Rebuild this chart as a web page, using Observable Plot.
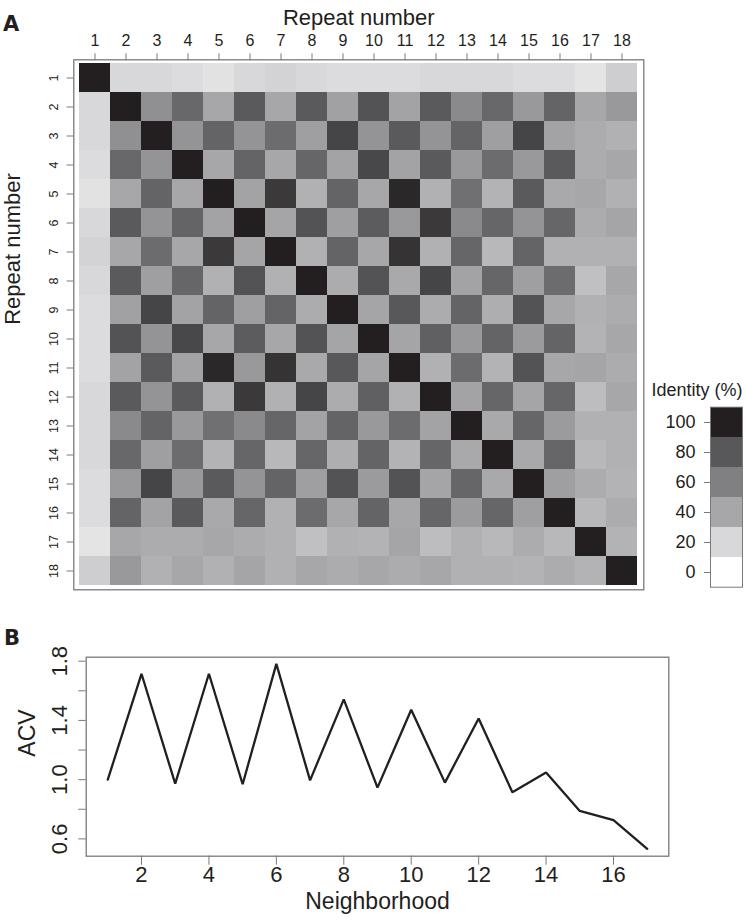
<!DOCTYPE html>
<html>
<head>
<meta charset="utf-8">
<script src="https://cdn.jsdelivr.net/npm/d3@7"></script>
<script src="https://cdn.jsdelivr.net/npm/@observablehq/plot@0.6"></script>
<style>
  html, body { margin: 0; padding: 0; background: #ffffff; }
  #root { position: relative; width: 747px; height: 922px; overflow: hidden;
          font-family: "Liberation Sans", Arial, Helvetica, sans-serif; color: #231f20; }
  .panel-label { position: absolute; font-family: "DejaVu Sans", sans-serif; font-weight: 900;
                 font-size: 21px; line-height: 1; color: #231f20; }
  svg { background: transparent !important; }
</style>
</head>
<body>
<div id="root">
  <div class="panel-label" style="left:3px; top:14px;">A</div>
  <div class="panel-label" style="left:4px; top:628px;">B</div>
</div>
<script>
// ---------- Panel A data: pairwise identity (%) between repeats ----------
const repeatNumbers = [1, 2, 3, 4, 5, 6, 7, 8, 9, 10, 11, 12, 13, 14, 15, 16, 17, 18];

const identityRows = [
  [100, 20, 20, 18, 15, 20, 22, 20, 18, 18, 18, 20, 20, 20, 18, 18, 14, 24],
  [ 20,100, 52, 72, 40, 79, 40, 79, 43, 82, 42, 79, 55, 72, 47, 74, 40, 47],
  [ 20, 52,100, 50, 74, 50, 70, 44, 87, 50, 79, 50, 74, 44, 87, 42, 38, 36],
  [ 18, 72, 50,100, 40, 74, 40, 73, 42, 86, 42, 79, 47, 70, 47, 79, 38, 40],
  [ 15, 40, 74, 40,100, 42, 91, 36, 74, 40, 97, 36, 68, 35, 79, 39, 40, 36],
  [ 20, 79, 50, 74, 42,100, 41, 82, 44, 78, 47, 91, 55, 73, 50, 73, 38, 41],
  [ 22, 40, 70, 40, 91, 41,100, 36, 74, 40, 93, 36, 73, 33, 74, 36, 36, 36],
  [ 20, 79, 44, 73, 36, 82, 36,100, 38, 82, 39, 87, 42, 73, 44, 70, 30, 40],
  [ 18, 43, 87, 42, 74, 44, 74, 38,100, 41, 80, 38, 74, 37, 82, 40, 36, 38],
  [ 18, 82, 50, 86, 40, 78, 40, 82, 41,100, 41, 76, 47, 74, 46, 74, 35, 40],
  [ 18, 42, 79, 42, 97, 47, 93, 39, 80, 41,100, 36, 70, 35, 82, 40, 41, 38],
  [ 20, 79, 50, 79, 36, 91, 36, 87, 38, 76, 36,100, 42, 73, 41, 73, 31, 40],
  [ 20, 55, 74, 47, 68, 55, 73, 42, 74, 47, 70, 42,100, 39, 73, 46, 36, 36],
  [ 20, 72, 44, 70, 35, 73, 33, 73, 37, 74, 35, 73, 39,100, 39, 73, 33, 36],
  [ 18, 47, 87, 47, 79, 50, 74, 44, 82, 46, 82, 41, 73, 39,100, 44, 38, 35],
  [ 18, 74, 42, 79, 39, 73, 36, 70, 40, 74, 40, 73, 46, 73, 44,100, 33, 38],
  [ 14, 40, 38, 38, 40, 38, 36, 30, 36, 35, 41, 31, 36, 33, 38, 33,100, 35],
  [ 24, 47, 36, 40, 36, 41, 36, 40, 38, 40, 38, 40, 36, 36, 35, 38, 35,100]
];

// legend stops and their greys
const legendStops  = [0, 20, 40, 60, 80, 100];
const legendColors = ["#ffffff", "#d8d8da", "#a7a7a9", "#808082", "#58585a", "#231f20"];

// ---------- Panel B data ----------
const neighborhood = [1, 2, 3, 4, 5, 6, 7, 8, 9, 10, 11, 12, 13, 14, 15, 16, 17];
const acv = [1.0, 1.715, 0.973, 1.715, 0.969, 1.782, 0.995, 1.542, 0.946, 1.472, 0.98, 1.413, 0.915, 1.048, 0.789, 0.726, 0.533];
const acvTicks = [0.6, 0.8, 1.0, 1.2, 1.4, 1.6, 1.8];
const acvLabels = ["0.6", "", "1.0", "", "1.4", "", "1.8"];
const neighborhoodTicks = [2, 4, 6, 8, 10, 12, 14, 16];

// ---------- build ----------
const root = document.getElementById("root");
const FONT = "'Liberation Sans', Arial, Helvetica, sans-serif";
const INK = "#231f20";
const GRID = "#7a7a7a";

const colorScale = {type: "linear", domain: legendStops, range: legendColors, interpolate: "rgb"};

const cells = identityRows.flatMap((row, i) =>
  row.map((v, j) => ({row: repeatNumbers[i], col: repeatNumbers[j], identity: v}))
);

function place(node, left, top) {
  node.style.position = "absolute";
  node.style.left = left + "px";
  node.style.top = top + "px";
  root.appendChild(node);
}

// Heatmap
const heat = Plot.plot({
  width: 650, height: 600,
  marginLeft: 73.3, marginRight: 6.7, marginTop: 59.3, marginBottom: 10.7,
  style: {fontFamily: FONT, background: "transparent", color: INK},
  x: {type: "band", domain: repeatNumbers, padding: 0, axis: null},
  y: {type: "band", domain: repeatNumbers, padding: 0, axis: null},
  color: colorScale,
  marks: [
    Plot.cell(cells, {x: "col", y: "row", fill: "identity", inset: 0, shapeRendering: "crispEdges"}),
    Plot.frame({stroke: GRID, strokeWidth: 1.3}),
    Plot.axisX({anchor: "top", tickSize: 7, tickPadding: 7, fontSize: 16, label: null, stroke: GRID, fill: INK}),
    Plot.axisY({anchor: "left", tickSize: 6.7, tickPadding: 9, tickRotate: -90, fontSize: 12.5, label: null, stroke: GRID, fill: INK}),
    Plot.text(["Repeat number"], {frameAnchor: "top", dy: -50, fontSize: 22, fill: INK}),
    Plot.text(["Repeat number"], {frameAnchor: "left", dx: -61, rotate: -90, fontSize: 22, fill: INK})
  ]
});
place(heat, 0, 0);

// Legend
const legend = Plot.plot({
  width: 97, height: 225,
  marginLeft: 60, marginRight: 5, marginTop: 36.7, marginBottom: 8.3,
  style: {fontFamily: FONT, background: "transparent", color: INK},
  x: {axis: null},
  y: {type: "band", domain: legendStops.slice().reverse(), padding: 0, axis: null},
  color: colorScale,
  marks: [
    Plot.cell(legendStops, {y: d => d, fill: d => d, inset: 0}),
    Plot.frame({stroke: GRID, strokeWidth: 1}),
    Plot.axisY({anchor: "left", tickSize: 6, tickPadding: 9, fontSize: 18, label: null, stroke: GRID, fill: INK}),
    Plot.text(["Identity (%)"], {frameAnchor: "top-right", textAnchor: "end", dy: -23.7, fontSize: 18, fill: INK})
  ]
});
place(legend, 650, 370);

// Line chart
const acvData = neighborhood.map((n, i) => ({n, v: acv[i]}));
const line = Plot.plot({
  width: 747, height: 322,
  marginLeft: 85.7, marginRight: 78.7, marginTop: 56.7, marginBottom: 66.3,
  style: {fontFamily: FONT, background: "transparent", color: INK},
  x: {domain: [0.36, 17.64], axis: null},
  y: {domain: [0.483, 1.827], axis: null},
  marks: [
    Plot.frame({stroke: GRID, strokeWidth: 1.3}),
    Plot.line(acvData, {x: "n", y: "v", stroke: INK, strokeWidth: 2.3, strokeLinejoin: "miter"}),
    Plot.axisX({anchor: "bottom", ticks: neighborhoodTicks, tickSize: 9, tickPadding: 1, fontSize: 22, label: null, stroke: GRID, fill: INK}),
    Plot.axisY({anchor: "left", ticks: acvTicks, tickFormat: d => acvLabels[acvTicks.indexOf(d)], tickSize: 7.4, tickPadding: 12, tickRotate: -90, fontSize: 22, label: null, stroke: GRID, fill: INK}),
    Plot.text(["ACV"], {frameAnchor: "left", dx: -58.4, rotate: -90, fontSize: 23, fill: INK}),
    Plot.text(["Neighborhood"], {frameAnchor: "bottom", dy: 53, fontSize: 23, fill: INK})
  ]
});
place(line, 0, 600);
</script>
</body>
</html>
